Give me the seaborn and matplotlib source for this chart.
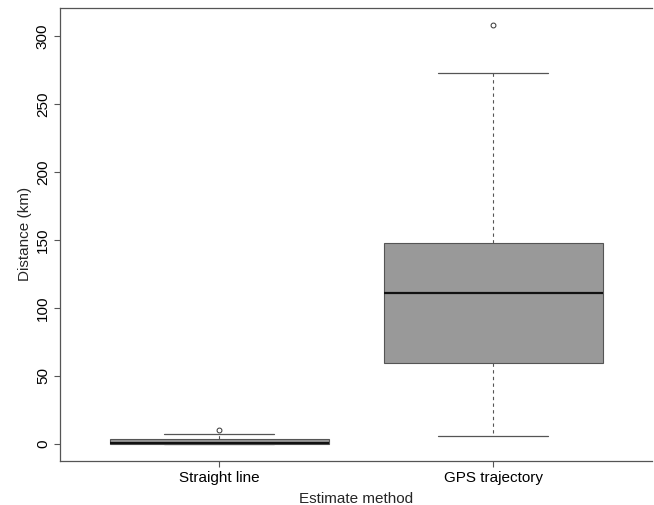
import pandas as pd
import matplotlib
matplotlib.use("Agg")
import matplotlib.pyplot as plt
import seaborn as sns

# distance estimates (km), per estimate method
methods = ["Straight line", "GPS trajectory"]
straight_line = [0.1, 0.2, 0.3, 0.6, 1.0, 2.0, 3.7, 7.2, 9.9]
gps_trajectory = [6.1, 30.0, 59.2, 85.0, 110.7, 130.0, 147.4, 272.8, 308.0]
y_ticks = [0, 50, 100, 150, 200, 250, 300]

df = pd.DataFrame({
    "method": [methods[0]] * len(straight_line) + [methods[1]] * len(gps_trajectory),
    "distance": straight_line + gps_trajectory,
})

sns.set_style("white")
plt.rcParams["font.family"] = ["Liberation Sans", "DejaVu Sans"]

fig = plt.figure(figsize=(6.54, 5.05), dpi=100)
# right frame edge falls just outside the picture, as in the original
ax = fig.add_axes([60.3 / 654, 1 - 460.5 / 505, 591.8 / 654, (460.5 - 8.3) / 505])

edge = "#555555"
sns.boxplot(data=df, x="method", y="distance", order=methods, ax=ax,
            color="#999999", saturation=1, width=0.8, whis=1.5,
            linecolor=edge, linewidth=0.8,
            medianprops={"color": "#111111", "linewidth": 1.6},
            whiskerprops={"color": edge, "linestyle": (0, (3, 3)), "linewidth": 0.8},
            capprops={"color": edge, "linewidth": 0.9},
            flierprops={"marker": "o", "markersize": 3.5, "markerfacecolor": "none",
                        "markeredgecolor": "#333333", "markeredgewidth": 0.7})

ax.set_xlim(-0.58, 1.58)
ax.set_ylim(-12.2, 320.3)
ax.set_yticks(y_ticks)
ax.set_yticklabels([str(v) for v in y_ticks], rotation=90, va="center")

for side in ["left", "bottom", "top"]:
    ax.spines[side].set_visible(True)
    ax.spines[side].set_color(edge)
    ax.spines[side].set_linewidth(0.9)
ax.spines["right"].set_visible(False)

ax.tick_params(axis="both", direction="out", length=4.5, width=0.8, color=edge,
               labelsize=11, pad=3, left=True, bottom=True, labelcolor="black")
ax.set_xlabel("Estimate method", fontsize=11, labelpad=5)
ax.set_ylabel("Distance (km)", fontsize=11, labelpad=3)

fig.savefig("out.png", dpi=100)
